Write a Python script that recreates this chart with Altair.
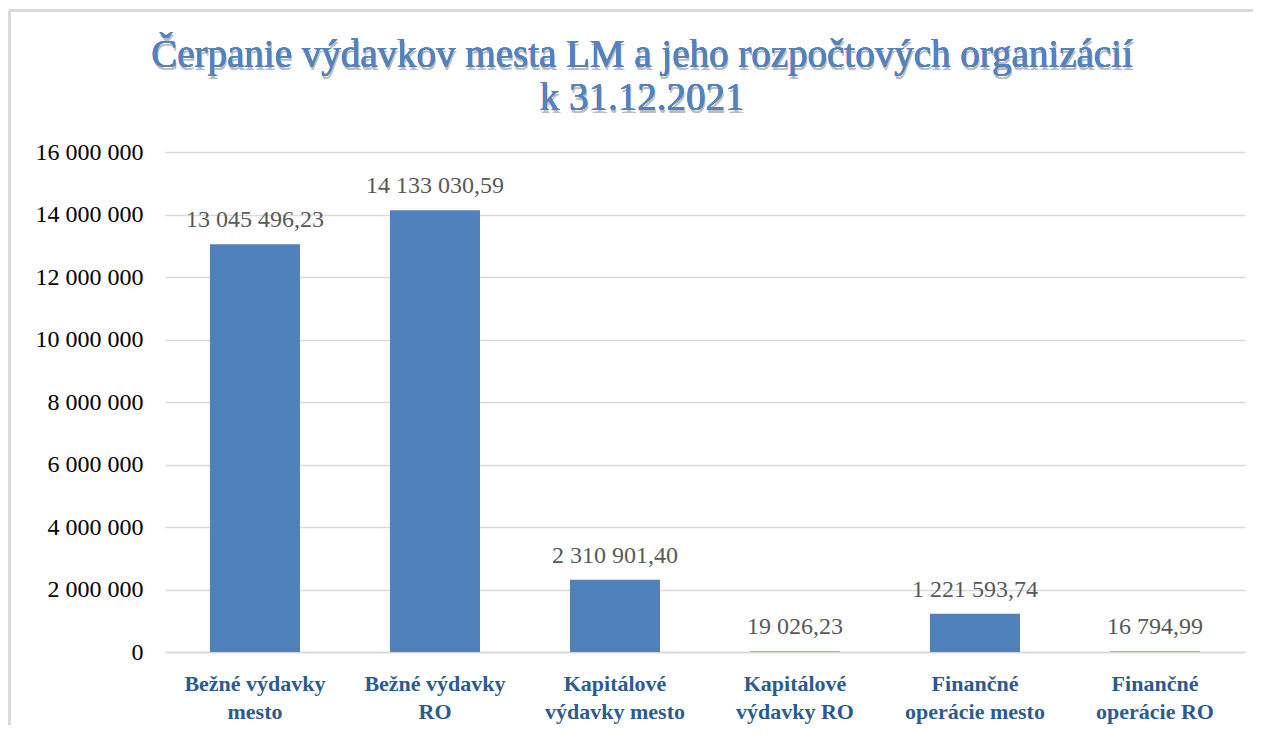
import altair as alt
import pandas as pd

categories = [
    "Bežné výdavky\nmesto",
    "Bežné výdavky\nRO",
    "Kapitálové\nvýdavky mesto",
    "Kapitálové\nvýdavky RO",
    "Finančné\noperácie mesto",
    "Finančné\noperácie RO",
]
values = [13045496.23, 14133030.59, 2310901.40, 19026.23, 1221593.74, 16794.99]
y_ticks = [0, 2000000, 4000000, 6000000, 8000000, 10000000, 12000000, 14000000, 16000000]
title_lines = ["Čerpanie výdavkov mesta LM a jeho rozpočtových organizácií", "k 31.12.2021"]


def fmt(v):
    return f"{v:,.2f}".replace(",", " ").replace(".", ",")


df = pd.DataFrame({"cat": categories, "val": values, "lbl": [fmt(v) for v in values]})

SERIF = "Liberation Serif"
W, H = 1080, 500

base = alt.Chart(df)

bars = base.mark_bar(color="#4F81BD", width=90).encode(
    x=alt.X(
        "cat:N",
        sort=None,
        title=None,
        axis=alt.Axis(
            labelExpr="split(datum.label, '\\n')",
            labelAngle=0,
            labelFont=SERIF,
            labelFontSize=22,
            labelFontWeight="bold",
            labelColor="#2D5B8E",
            labelLineHeight=28,
            labelPadding=21,
            labelBaseline="top",
            ticks=False,
            domainColor="#D9D9D9",
            domainWidth=1.5,
            grid=False,
        ),
        scale=alt.Scale(paddingInner=0, paddingOuter=0),
    ),
    y=alt.Y(
        "val:Q",
        title=None,
        scale=alt.Scale(domain=[0, 16000000], nice=False),
        axis=alt.Axis(
            values=y_ticks,
            labelExpr="replace(format(datum.value, ','), regexp(',', 'g'), ' ')",
            labelFont=SERIF,
            labelFontSize=24,
            labelColor="#000000",
            labelPadding=22,
            ticks=False,
            domain=False,
            gridColor="#D9D9D9",
            gridWidth=1.5,
        ),
    ),
)

labels = base.mark_text(
    font=SERIF, fontSize=24, color="#595959", baseline="alphabetic", dy=-17
).encode(
    x=alt.X("cat:N", sort=None),
    y=alt.Y("val:Q"),
    text="lbl:N",
)

title_shadow = alt.Chart(df).mark_text(
    font=SERIF,
    fontSize=39,
    color="#B0B0B0",
    opacity=0.25,
    baseline="alphabetic",
    align="center",
    lineHeight=43,
    dx=1,
    dy=2.5,
).encode(x=alt.value(477), y=alt.value(-85), text=alt.value(title_lines))

title = alt.Chart(df).mark_text(
    font=SERIF,
    fontSize=39,
    color="#5283BF",
    baseline="alphabetic",
    align="center",
    lineHeight=43,
).encode(x=alt.value(477), y=alt.value(-85), text=alt.value(title_lines))

border_left = alt.Chart(df).mark_rule(color="#D9D9D9", strokeWidth=2).encode(
    x=alt.value(-155.5), y=alt.value(-141.5), y2=alt.value(H + 80)
)
border_top = alt.Chart(df).mark_rule(color="#D9D9D9", strokeWidth=2).encode(
    x=alt.value(-155.5), x2=alt.value(W + 20), y=alt.value(-141.5)
)

chart = (
    alt.layer(bars, labels, title_shadow, title, border_left, border_top)
    .properties(
        width=W,
        height=H,
        autosize=alt.AutoSizeParams(type="none"),
        padding={"left": 157, "top": 144, "right": 8, "bottom": 73},
    )
    .configure_view(stroke=None)
)

chart.save("out.html", embed_options={"renderer": "svg", "actions": False})
